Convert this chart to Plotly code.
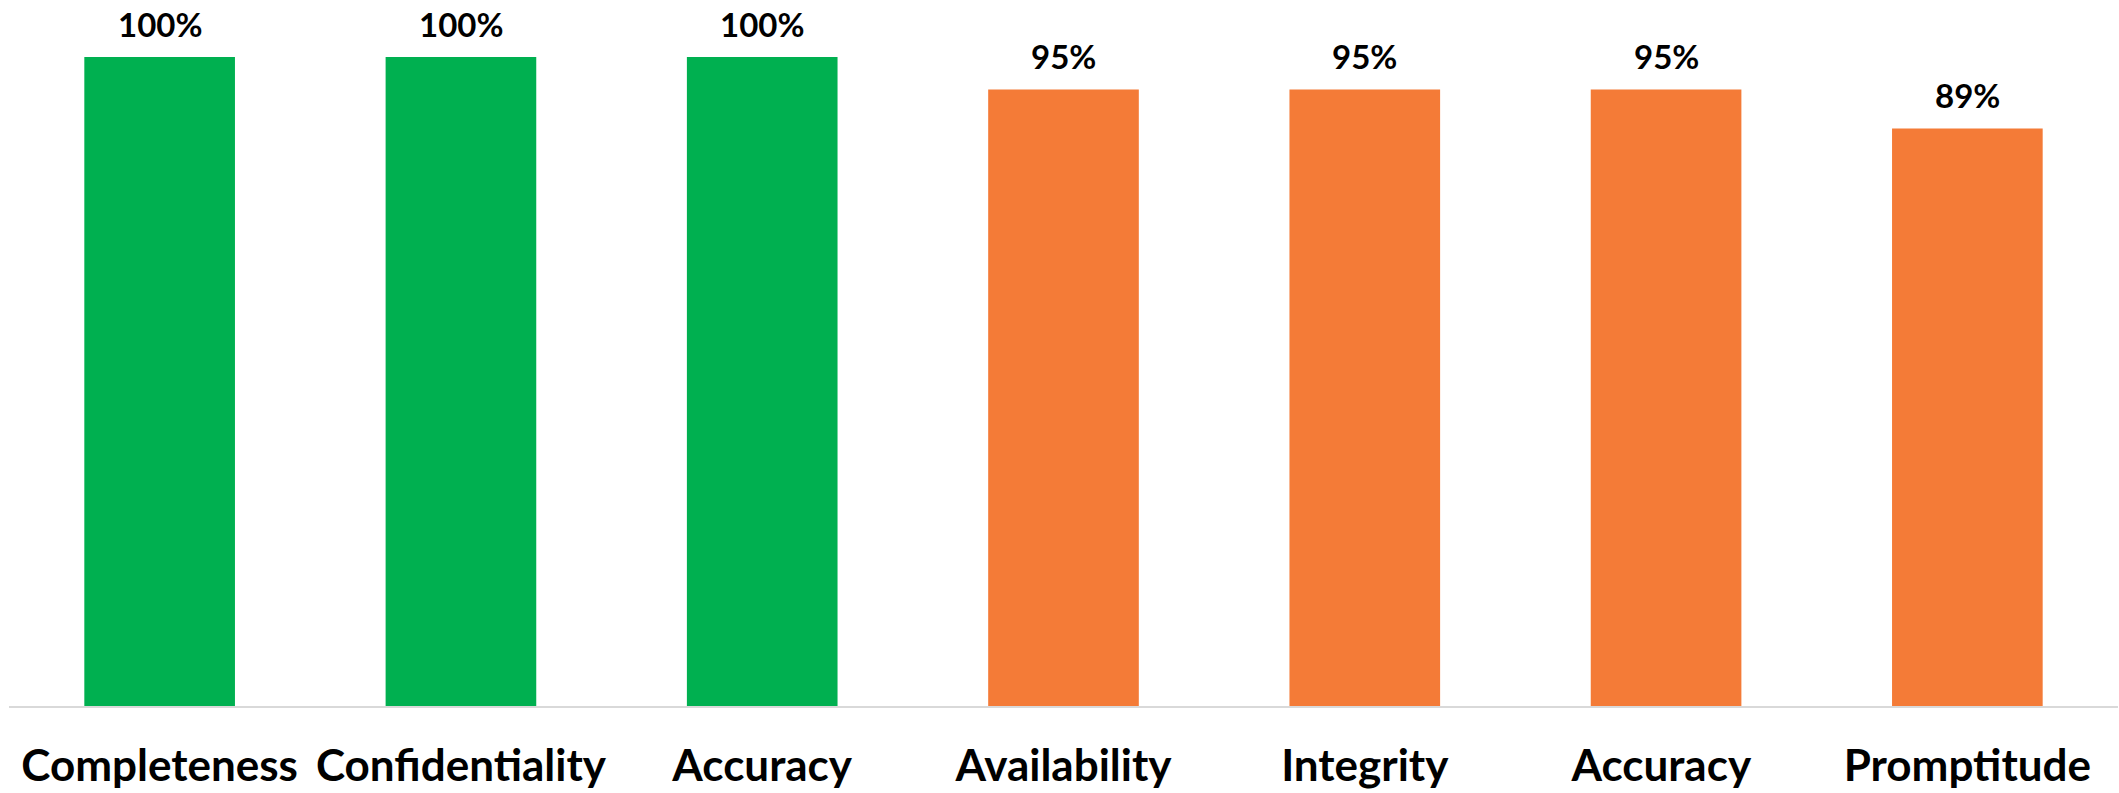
import plotly.graph_objects as go

# Quality dimension scores
categories = ["Completeness", "Confidentiality", "Accuracy", "Availability",
              "Integrity", "Accuracy ", "Promptitude"]
scores = [1.00, 1.00, 1.00, 0.95, 0.95, 0.95, 0.89]
score_labels = ["100%", "100%", "100%", "95%", "95%", "95%", "89%"]
bar_colors = ["#00B050", "#00B050", "#00B050", "#F47B37", "#F47B37", "#F47B37", "#F47B37"]

fig = go.Figure(
    go.Bar(
        x=categories,
        y=scores,
        marker=dict(color=bar_colors, line=dict(width=0)),
        hoverinfo="skip",
    )
)

# value labels above each bar
for cat, val, lab in zip(categories, scores, score_labels):
    fig.add_annotation(
        x=cat, y=val, text=f"<b>{lab}</b>", showarrow=False,
        yanchor="middle", yshift=33,
        font=dict(family="Lato", size=33, color="#000000"),
    )

fig.update_layout(
    width=2119, height=793,
    margin=dict(l=9, r=1, t=57, b=87),
    paper_bgcolor="white", plot_bgcolor="white",
    bargap=0.5, showlegend=False,
    font=dict(family="Lato", color="#000000"),
)
fig.update_xaxes(
    type="category", automargin=False,
    showline=True, linecolor="#D9D9D9", linewidth=1.5,
    showgrid=False, ticks="", zeroline=False,
    tickfont=dict(family="Lato", size=44, color="#000000", weight="bold"),
    ticklabelstandoff=20,
)
fig.update_yaxes(range=[0, 1], visible=False, showgrid=False, zeroline=False)

fig.write_html("out.html")
